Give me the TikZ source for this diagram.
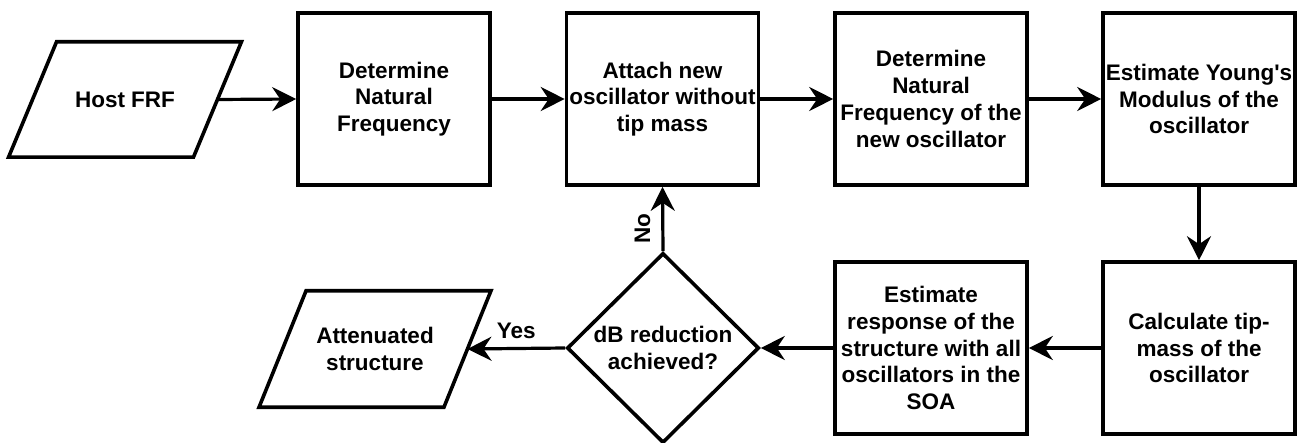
\documentclass[tikz,border=0pt]{standalone}
\usepackage{fontspec}
\setmainfont{Liberation Sans}
\usetikzlibrary{arrows.meta,shapes.geometric}
\tikzset{
  lbl/.style={font=\bfseries\fontsize{22.5}{26.7}\selectfont, align=center, inner sep=0pt},
  box/.style={lbl, draw, line width=3.6pt, minimum width=192pt, minimum height=172pt},
  io/.style={lbl, minimum width=184.5pt, minimum height=115pt},
  decision/.style={diamond, draw, line width=3.6pt, minimum width=192pt, minimum height=190pt, inner sep=0pt},
  arr/.style={line width=3.2pt, -{Stealth[length=24pt,width=24pt,inset=8pt]}},
  paraline/.style={line width=3.6pt}
}
\begin{document}
\begin{tikzpicture}[x=1pt,y=-1pt]
\useasboundingbox[fill=white] (0,0) rectangle (1305,443);

\node[io] (host) at (125,99.5) {Host FRF};
\draw[paraline] ([xshift=24pt]host.north west) -- ([xshift=24pt]host.north east)
  -- ([xshift=-24pt]host.south east) -- ([xshift=-24pt]host.south west) -- cycle;

\node[box] (nat) at (394,99) {Determine\\Natural\\Frequency};
\node[box] (att) at (662.5,99) {Attach new\\oscillator without\\tip mass};
\node[box] (nat2) at (931,99) {Determine\\Natural\\Frequency of the\\new oscillator};
\node[box] (young) at (1199,99) {Estimate Young\textquotesingle s\\Modulus of the\\oscillator};
\node[box] (tip) at (1199,348) {Calculate tip-\\mass of the\\oscillator};
\node[box] (resp) at (931,348) {Estimate\\response of the\\structure with all\\oscillators in the\\SOA};
\node[decision] (dec) at (663,348) {};
\node[lbl] (dect) at (dec.center) {dB reduction\\achieved?};

\node[io, minimum height=116pt] (att2) at (375,349) {Attenuated\\structure};
\draw[paraline] ([xshift=23.5pt]att2.north west) -- ([xshift=23.5pt]att2.north east)
  -- ([xshift=-23.5pt]att2.south east) -- ([xshift=-23.5pt]att2.south west) -- cycle;

\draw[arr] (host.east) -- (nat.west);
\draw[arr] (nat) -- (att);
\draw[arr] (att) -- (nat2);
\draw[arr] (nat2) -- (young);
\draw[arr] (young) -- (tip);
\draw[arr] (tip) -- (resp);
\draw[arr] (resp) -- (dec.east);
\draw[arr] (dec.west) -- (att2.east) node[lbl, midway, anchor=south, inner sep=8pt] {Yes};
\draw[arr] (dec.north) -- (att.south) node[lbl, pos=0.35, rotate=90, anchor=south, inner sep=11pt] {No};
\end{tikzpicture}
\end{document}
